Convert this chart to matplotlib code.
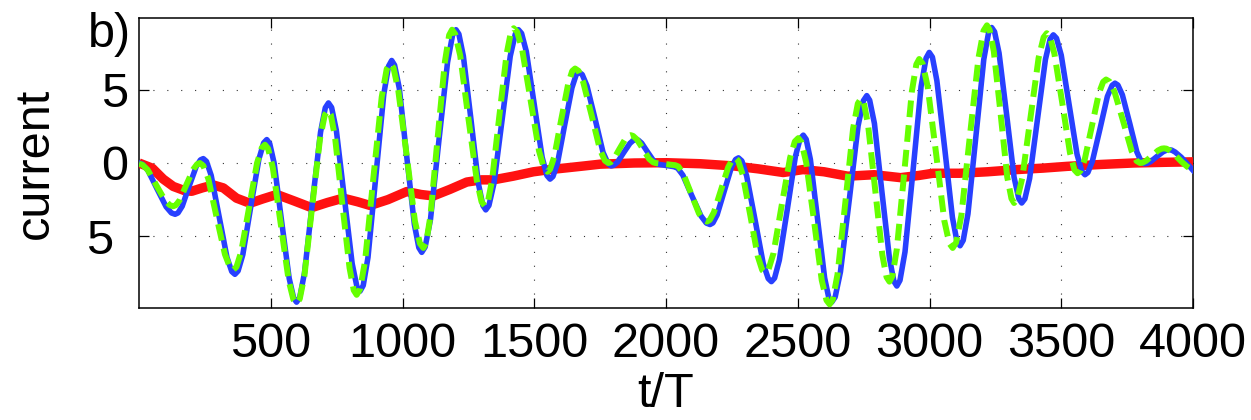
import matplotlib
matplotlib.use("Agg")
import matplotlib.pyplot as plt
from matplotlib.transforms import ScaledTranslation

# ---- data: (t/T, current) ----
blue_pts = [
    (0, 0.0), (14, -0.09), (34, -0.51), (68, -1.75), (103, -2.99), (123, -3.41), (137, -3.5),
    (148, -3.41), (164, -2.95), (190, -1.6), (217, -0.25), (233, 0.21), (244, 0.3),
    (256, 0.11), (274, -0.85), (304, -3.65), (334, -6.45), (352, -7.41), (364, -7.6),
    (376, -7.37), (394, -6.26), (424, -3.0), (455, 0.26), (473, 1.37), (485, 1.6),
    (496, 1.33), (513, -0.02), (541, -3.95), (570, -7.88), (587, -9.23), (598, -9.5),
    (610, -9.17), (628, -7.51), (658, -2.7), (689, 2.11), (707, 3.77), (719, 4.1),
    (731, 3.79), (749, 2.22), (779, -2.33), (809, -6.87), (827, -8.44), (839, -8.75),
    (851, -8.36), (869, -6.45), (899, -0.88), (929, 4.7), (947, 6.61), (959, 7.0),
    (970, 6.68), (988, 5.09), (1016, 0.45), (1045, -4.19), (1062, -5.78), (1073, -6.1),
    (1086, -5.73), (1106, -3.88), (1138, 1.5), (1171, 6.88), (1190, 8.73), (1203, 9.1),
    (1214, 8.8), (1231, 7.3), (1260, 2.95), (1288, -1.4), (1305, -2.9), (1316, -3.2),
    (1328, -2.9), (1347, -1.4), (1378, 2.95), (1409, 7.3), (1428, 8.8), (1440, 9.1),
    (1452, 8.85), (1470, 7.61), (1500, 4.0), (1530, 0.39), (1548, -0.85), (1560, -1.1),
    (1571, -0.92), (1588, -0.03), (1615, 2.55), (1643, 5.13), (1659, 6.02), (1670, 6.2),
    (1682, 6.04), (1700, 5.27), (1731, 3.0), (1761, 0.73), (1780, -0.04), (1792, -0.2),
    (1801, -0.16), (1816, 0.06), (1839, 0.7), (1863, 1.34), (1877, 1.56), (1886, 1.6),
    (1895, 1.56), (1908, 1.35), (1930, 0.75), (1953, 0.15), (1966, -0.06), (1975, -0.1),
    (2030, -0.25), (2044, -0.35), (2064, -0.83), (2098, -2.23), (2133, -3.62), (2153, -4.1),
    (2167, -4.2), (2178, -4.09), (2194, -3.54), (2221, -1.93), (2248, -0.31), (2264, 0.24),
    (2275, 0.35), (2288, 0.14), (2306, -0.88), (2338, -3.88), (2369, -6.87), (2388, -7.89),
    (2400, -8.1), (2412, -7.86), (2430, -6.64), (2461, -3.1), (2491, 0.44), (2509, 1.66),
    (2521, 1.9), (2532, 1.62), (2548, 0.24), (2575, -3.8), (2602, -7.84), (2618, -9.22),
    (2629, -9.5), (2642, -9.15), (2662, -7.44), (2696, -2.45), (2729, 2.54), (2749, 4.25),
    (2762, 4.6), (2773, 4.28), (2791, 2.7), (2819, -1.9), (2848, -6.5), (2865, -8.08),
    (2876, -8.4), (2888, -8.01), (2907, -6.07), (2938, -0.43), (2968, 5.22), (2987, 7.16),
    (2999, 7.55), (3011, 7.23), (3028, 5.62), (3058, 0.95), (3087, -3.72), (3104, -5.33),
    (3116, -5.65), (3128, -5.28), (3146, -3.47), (3176, 1.8), (3206, 7.07), (3224, 8.88),
    (3236, 9.25), (3247, 8.96), (3264, 7.5), (3293, 3.26), (3321, -0.98), (3339, -2.44),
    (3350, -2.73), (3362, -2.45), (3380, -1.05), (3410, 3.01), (3440, 7.07), (3458, 8.47),
    (3470, 8.75), (3482, 8.52), (3500, 7.36), (3530, 3.98), (3560, 0.59), (3578, -0.57),
    (3590, -0.8), (3601, -0.65), (3618, 0.11), (3647, 2.33), (3675, 4.54), (3693, 5.3),
    (3704, 5.45), (3715, 5.32), (3732, 4.65), (3760, 2.7), (3787, 0.75), (3804, 0.08),
    (3815, -0.05), (3825, -0.03), (3839, 0.09), (3862, 0.43), (3886, 0.76), (3900, 0.88),
    (3910, 0.9), (3919, 0.88), (3932, 0.75), (3955, 0.4), (3978, -0.05), (4000, -0.5),
]

green_pts = [
    (0, -0.05), (13, -0.12), (33, -0.47), (65, -1.5), (98, -2.53), (117, -2.88), (130, -2.95),
    (140, -2.88), (155, -2.52), (180, -1.48), (206, -0.43), (221, -0.07), (231, 0.0),
    (244, -0.18), (263, -1.07), (294, -3.65), (326, -6.23), (345, -7.12), (358, -7.3),
    (370, -7.09), (388, -6.05), (418, -3.03), (448, 0.0), (466, 1.04), (478, 1.25),
    (490, 0.98), (508, -0.33), (538, -4.18), (568, -8.02), (586, -9.33), (598, -9.6),
    (610, -9.28), (628, -7.67), (657, -3.0), (687, 1.67), (705, 3.28), (717, 3.6),
    (728, 3.29), (744, 1.76), (771, -2.7), (799, -7.16), (815, -8.69), (826, -9.0),
    (839, -8.61), (858, -6.69), (889, -1.1), (921, 4.49), (940, 6.41), (953, 6.8),
    (966, 6.49), (984, 4.96), (1016, 0.5), (1047, -3.96), (1066, -5.49), (1079, -5.8),
    (1090, -5.43), (1106, -3.62), (1133, 1.65), (1161, 6.92), (1177, 8.73), (1188, 9.1),
    (1200, 8.8), (1219, 7.34), (1250, 3.07), (1282, -1.19), (1300, -2.65), (1313, -2.95),
    (1324, -2.65), (1340, -1.18), (1367, 3.13), (1395, 7.43), (1411, 8.9), (1422, 9.2),
    (1435, 8.96), (1454, 7.77), (1486, 4.3), (1518, 0.83), (1537, -0.36), (1550, -0.6),
    (1560, -0.43), (1576, 0.43), (1602, 2.93), (1629, 5.42), (1644, 6.28), (1655, 6.45),
    (1668, 6.29), (1686, 5.51), (1718, 3.23), (1749, 0.94), (1768, 0.16), (1781, 0.0),
    (1790, 0.05), (1802, 0.28), (1823, 0.95), (1845, 1.62), (1857, 1.85), (1866, 1.9),
    (1875, 1.85), (1889, 1.62), (1913, 0.95), (1936, 0.28), (1951, 0.05), (1960, 0.0),
    (2035, -0.15), (2047, -0.24), (2065, -0.71), (2095, -2.08), (2125, -3.44), (2143, -3.91),
    (2155, -4.0), (2166, -3.89), (2182, -3.36), (2209, -1.83), (2236, -0.29), (2252, 0.24),
    (2263, 0.35), (2274, 0.16), (2291, -0.8), (2320, -3.58), (2348, -6.35), (2365, -7.31),
    (2376, -7.5), (2389, -7.27), (2408, -6.16), (2439, -2.9), (2471, 0.36), (2489, 1.47),
    (2502, 1.7), (2514, 1.42), (2532, 0.04), (2562, -3.98), (2591, -8.0), (2609, -9.37),
    (2621, -9.65), (2633, -9.31), (2651, -7.6), (2681, -2.63), (2710, 2.35), (2728, 4.06),
    (2740, 4.4), (2751, 4.09), (2767, 2.58), (2794, -1.85), (2821, -6.28), (2837, -7.79),
    (2848, -8.1), (2859, -7.73), (2876, -5.88), (2905, -0.5), (2933, 4.88), (2950, 6.73),
    (2961, 7.1), (2974, 6.78), (2993, 5.22), (3025, 0.65), (3056, -3.92), (3075, -5.48),
    (3088, -5.8), (3101, -5.43), (3121, -3.58), (3153, 1.8), (3186, 7.18), (3205, 9.03),
    (3218, 9.4), (3228, 9.1), (3244, 7.63), (3270, 3.34), (3295, -0.96), (3311, -2.43),
    (3321, -2.73), (3333, -2.45), (3352, -1.04), (3383, 3.07), (3414, 7.17), (3433, 8.58),
    (3445, 8.86), (3457, 8.63), (3474, 7.46), (3504, 4.08), (3533, 0.7), (3550, -0.47),
    (3562, -0.7), (3573, -0.54), (3589, 0.23), (3616, 2.5), (3643, 4.77), (3659, 5.54),
    (3670, 5.7), (3683, 5.56), (3702, 4.87), (3735, 2.85), (3767, 0.83), (3786, 0.14),
    (3799, 0.0), (3808, 0.02), (3822, 0.15), (3845, 0.5), (3867, 0.85), (3881, 0.98),
    (3890, 1.0), (3899, 0.98), (3912, 0.85), (3934, 0.5), (3956, 0.1), (3978, -0.25),
    (4000, -0.5),
]

red_t = [0, 50, 92, 130, 175, 200, 240, 282, 320, 370, 421, 470, 523, 590, 655, 715, 775,
         830, 877, 945, 1016, 1070, 1117, 1180, 1244, 1300, 1345, 1420, 1497, 1560, 1623, 1690,
         1750, 1880, 2003, 2130, 2256, 2350, 2445, 2520, 2600, 2690, 2790, 2890, 2960, 3013,
         3114, 3220, 3330, 3430, 3521, 3650, 3774, 3900, 4000]
red_i = [0.0, -0.35, -1.1, -1.6, -1.9, -1.93, -1.7, -1.5, -1.7, -2.4, -2.75, -2.45, -2.15,
         -2.6, -3.05, -2.7, -2.4, -2.65, -2.9, -2.5, -1.95, -2.15, -2.25, -1.8, -1.3, -1.15,
         -1.15, -0.9, -0.6, -0.45, -0.33, -0.2, -0.08, 0.0, 0.02, -0.05, -0.2, -0.4, -0.65,
         -0.45, -0.6, -0.9, -0.8, -1.0, -0.85, -0.7, -0.7, -0.6, -0.45, -0.35, -0.23, -0.1,
         0.0, 0.05, 0.08]

x_ticks = [500, 1000, 1500, 2000, 2500, 3000, 3500, 4000]
x_ticklabels = ["500", "1000", "1500", "2000", "2500", "3000", "3500", "4000"]
y_ticks = [-5, 0, 5]
y_ticklabels = ["5", "0", "5"]

blue_t, blue_i = zip(*blue_pts)
green_t, green_i = zip(*green_pts)

# ---- figure ----
plt.rcParams['font.family'] = ['Liberation Sans', 'DejaVu Sans']
W, H = 1251, 420
fig = plt.figure(figsize=(W / 100, H / 100), dpi=100)
ax = fig.add_axes([139 / W, 1 - 308 / H, (1193 - 139) / W, (308 - 18) / H])

ax.plot(red_t, red_i, color='#ff1111', lw=6.8, solid_capstyle='butt',
        solid_joinstyle='round', zorder=3)
ax.plot(blue_t, blue_i, color='#2840ff', lw=4.0, solid_joinstyle='round', zorder=4)
ax.plot(green_t, green_i, color='#66ff00', lw=4.3, linestyle=(0, (2.8, 1.35)),
        dash_capstyle='butt', zorder=5)

ax.set_xlim(0, 4000)
ax.set_ylim(-9.9, 9.9)
ax.set_xticks(x_ticks)
ax.set_xticklabels(x_ticklabels)
ax.set_yticks(y_ticks)
ax.set_yticklabels(y_ticklabels)

ax.tick_params(axis='both', direction='in', length=7, width=0.9, labelsize=35,
               top=True, right=True, colors='black')
ax.tick_params(axis='x', pad=10)
ax.tick_params(axis='y', pad=8)
ax.grid(True, color='#333333', linestyle=(0, (1, 11.5)), linewidth=0.8)
for s in ax.spines.values():
    s.set_linewidth(1.1)

# lower "5" label sits further left in the reference
yt = ax.yaxis.get_major_ticks()
yt[0].label1.set_transform(yt[0].label1.get_transform() +
                           ScaledTranslation(-15 / 100, 0, fig.dpi_scale_trans))

ax.set_xlabel('t/T', fontsize=35)
ax.xaxis.set_label_coords(0.5, -0.222)
ax.set_ylabel('current', fontsize=35)
ax.yaxis.set_label_coords(-0.077, 0.5)

fig.text(88 / W, 1 - 47 / H, 'b)', fontsize=35, ha='left', va='baseline')

fig.savefig('out.png', dpi=100)
